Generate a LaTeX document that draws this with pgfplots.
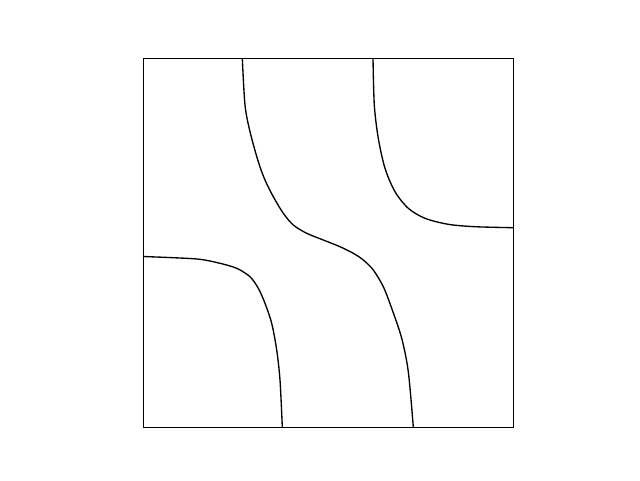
\documentclass[border=0pt]{standalone}
\usepackage{pgfplots}
\pgfplotsset{compat=1.18}
\begin{document}
\begin{tikzpicture}
\path[use as bounding box] (0,0) rectangle (480pt,360pt);
\begin{axis}[at={(107.25pt,39.75pt)}, anchor=south west, scale only axis,
  width=277.5pt, height=276.75pt, xmin=143, xmax=513, ymin=58, ymax=427, y dir=reverse,
  ticks=none, axis line style={line width=0.6pt}, clip=true]
\addplot[black, line width=1pt, smooth] coordinates {
(143,256.5) (173.3,257.7) (200,259.3) (220,263.3) (236.7,268.3) (250,276.7) (258.3,288.3) (265,303.3) (271.7,323.3) (276.7,350) (280,380) (282.3,427)};
\addplot[black, line width=1pt, smooth] coordinates {
(242.3,58) (245,105) (250,131.7) (258.3,161.7) (265,180) (273.3,196.7) (283.3,213.3) (293.3,225) (306.7,233.3) (323.3,240) (340,246.7) (353.3,253.3) (363.3,260) (373.3,270) (383.3,286.7) (391.7,308.3) (401.7,338.3) (408.3,371.7) (413.3,427)};
\addplot[black, line width=1pt, smooth] coordinates {
(373,58) (374.3,105) (378.3,138.3) (385,168.3) (395,191.7) (408.3,208.3) (425,218.3) (448.3,224.3) (475,226.7) (513,227.7)};
\end{axis}
\end{tikzpicture}
\end{document}
